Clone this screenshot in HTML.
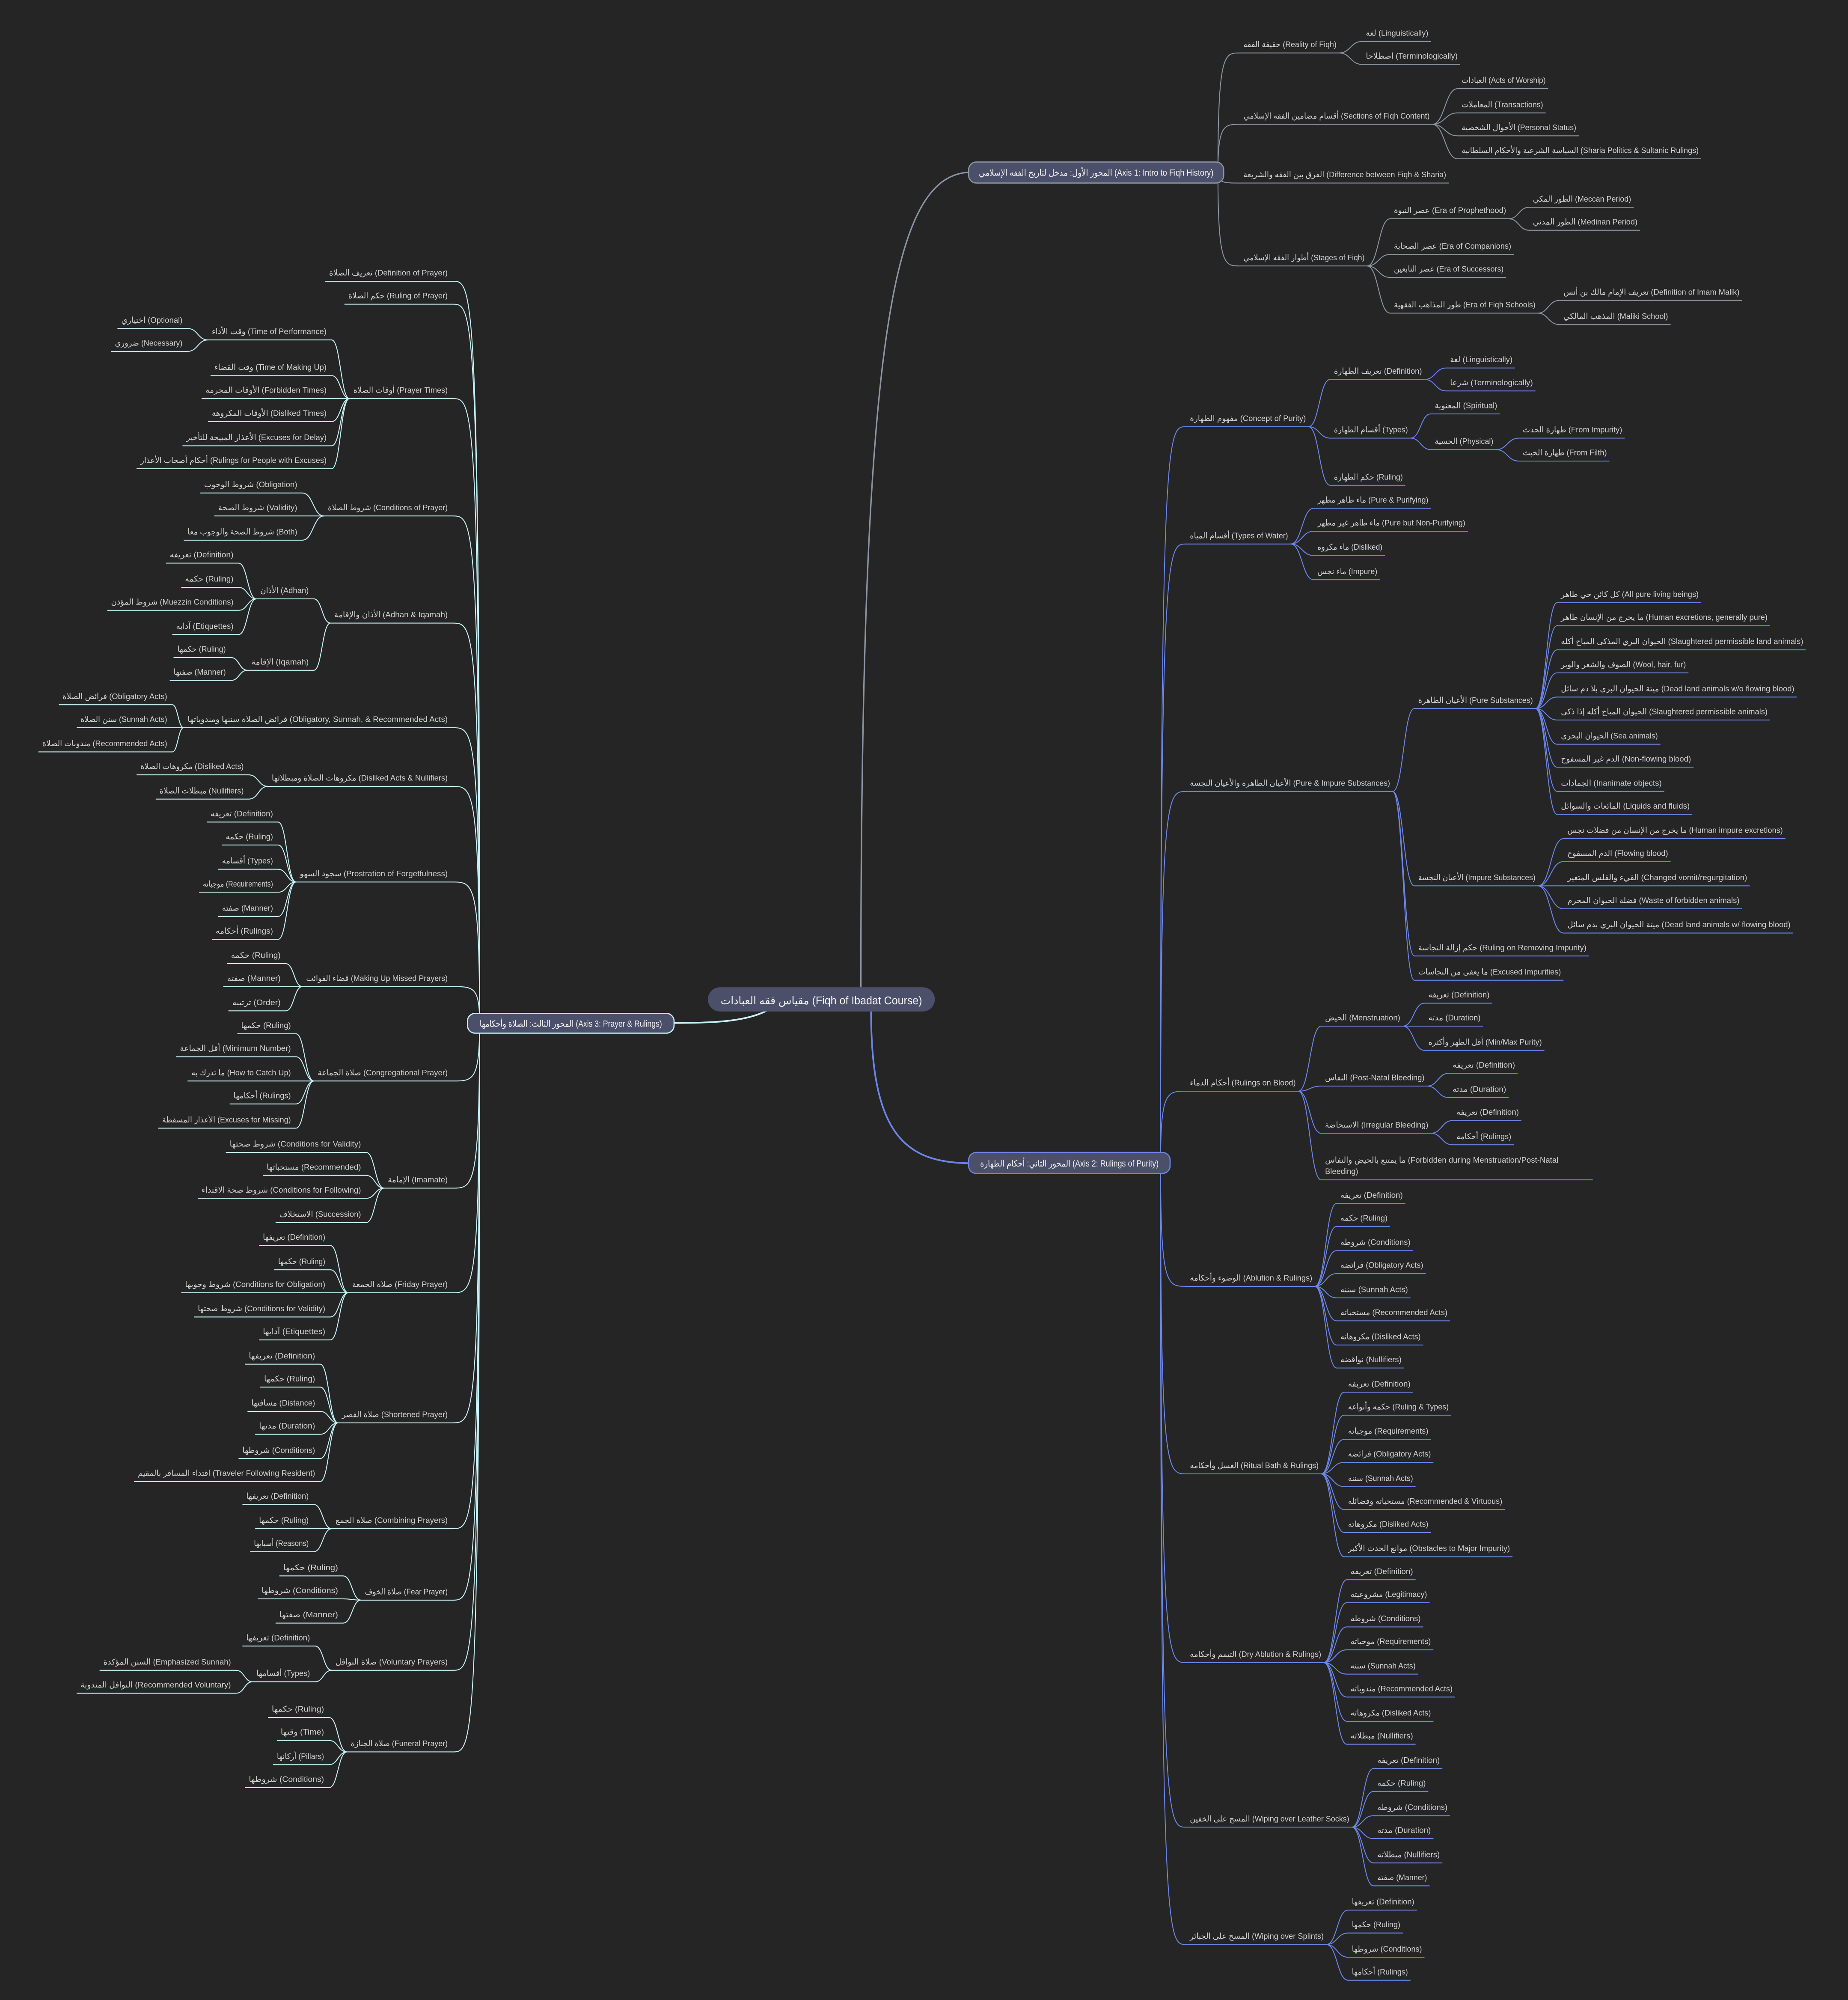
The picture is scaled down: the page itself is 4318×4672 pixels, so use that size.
<!DOCTYPE html>
<html><head><meta charset="utf-8"><style>
html,body{margin:0;padding:0;background:#252525;}
svg{display:block;}
text{font-family:"Liberation Sans","DejaVu Sans",sans-serif;font-size:6.3px;fill:#d2d2d2;}
.g{stroke:#8c95a5;fill:none;stroke-width:0.7;}
.b{stroke:#6c86e8;fill:none;stroke-width:0.7;}
.c{stroke:#c6f1f6;fill:none;stroke-width:0.7;}
.bx text{fill:#f2f2f2;font-size:7px;}
</style></head><body>
<svg width="4318" height="4672" viewBox="0 0 1449 1568" xmlns="http://www.w3.org/2000/svg">
<rect width="1449" height="1568" fill="#252525"/>

<!-- root connectors -->
<path class="g" style="stroke-width:1.1" d="M675,774 C675,260 700,135 762,135"/>
<path class="b" style="stroke-width:1.3" d="M683,793 C683,890 710,912 762,912"/>
<path class="c" style="stroke-width:1.3" d="M602,792 C585,801 560,802 526,802"/>

<!-- ===== AXIS 1 ===== -->
<path class="g" d="M955,135 C955,41.5 960,41.5 972,41.5 H1050"/>
<text x="975" y="37" textLength="73" lengthAdjust="spacingAndGlyphs">حقيقة الفقه (Reality of Fiqh)</text>
<path class="g" d="M955,135 C955,97.5 960,97.5 972,97.5 H1123"/>
<text x="975" y="93" textLength="146" lengthAdjust="spacingAndGlyphs">أقسام مضامين الفقه الإسلامي (Sections of Fiqh Content)</text>
<path class="g" d="M955,135 C955,143.5 960,143.5 972,143.5 H1136"/>
<text x="975" y="139" textLength="159" lengthAdjust="spacingAndGlyphs">الفرق بين الفقه والشريعة (Difference between Fiqh &amp; Sharia)</text>
<path class="g" d="M955,135 C955,208.5 960,208.5 972,208.5 H1072"/>
<text x="975" y="204" textLength="95" lengthAdjust="spacingAndGlyphs">أطوار الفقه الإسلامي (Stages of Fiqh)</text>

<path class="g" d="M1050,41.5 C1059,41.5 1059,32.5 1068,32.5 H1122"/>
<text x="1071" y="28" textLength="49" lengthAdjust="spacingAndGlyphs">لغة (Linguistically)</text>
<path class="g" d="M1050,41.5 C1059,41.5 1059,50.5 1068,50.5 H1145"/>
<text x="1071" y="46" textLength="72" lengthAdjust="spacingAndGlyphs">اصطلاحا (Terminologically)</text>

<path class="g" d="M1123,97.5 C1133,97.5 1133,69.5 1143,69.5 H1214"/>
<text x="1146" y="65" textLength="66" lengthAdjust="spacingAndGlyphs">العبادات (Acts of Worship)</text>
<path class="g" d="M1123,97.5 C1133,97.5 1133,88.5 1143,88.5 H1212"/>
<text x="1146" y="84" textLength="64" lengthAdjust="spacingAndGlyphs">المعاملات (Transactions)</text>
<path class="g" d="M1123,97.5 C1133,97.5 1133,106.5 1143,106.5 H1238"/>
<text x="1146" y="102" textLength="90" lengthAdjust="spacingAndGlyphs">الأحوال الشخصية (Personal Status)</text>
<path class="g" d="M1123,97.5 C1133,97.5 1133,124.5 1143,124.5 H1334"/>
<text x="1146" y="120" textLength="186" lengthAdjust="spacingAndGlyphs">السياسة الشرعية والأحكام السلطانية (Sharia Politics &amp; Sultanic Rulings)</text>

<path class="g" d="M1072,208.5 C1081,208.5 1081,171.5 1090,171.5 H1183"/>
<text x="1093" y="167" textLength="88" lengthAdjust="spacingAndGlyphs">عصر النبوة (Era of Prophethood)</text>
<path class="g" d="M1072,208.5 C1081,208.5 1081,199.5 1090,199.5 H1187"/>
<text x="1093" y="195" textLength="92" lengthAdjust="spacingAndGlyphs">عصر الصحابة (Era of Companions)</text>
<path class="g" d="M1072,208.5 C1081,208.5 1081,217.5 1090,217.5 H1181"/>
<text x="1093" y="213" textLength="86" lengthAdjust="spacingAndGlyphs">عصر التابعين (Era of Successors)</text>
<path class="g" d="M1072,208.5 C1081,208.5 1081,245.5 1090,245.5 H1206"/>
<text x="1093" y="241" textLength="111" lengthAdjust="spacingAndGlyphs">طور المذاهب الفقهية (Era of Fiqh Schools)</text>

<path class="g" d="M1183,171.5 C1191,171.5 1191,162.5 1199,162.5 H1281"/>
<text x="1202" y="158" textLength="77" lengthAdjust="spacingAndGlyphs">الطور المكي (Meccan Period)</text>
<path class="g" d="M1183,171.5 C1191,171.5 1191,180.5 1199,180.5 H1286"/>
<text x="1202" y="176" textLength="82" lengthAdjust="spacingAndGlyphs">الطور المدني (Medinan Period)</text>

<path class="g" d="M1206,245.5 C1214,245.5 1214,235.5 1223,235.5 H1366"/>
<text x="1226" y="231" textLength="138" lengthAdjust="spacingAndGlyphs">تعريف الإمام مالك بن أنس (Definition of Imam Malik)</text>
<path class="g" d="M1206,245.5 C1214,245.5 1214,254.5 1223,254.5 H1310"/>
<text x="1226" y="250" textLength="82" lengthAdjust="spacingAndGlyphs">المذهب المالكي (Maliki School)</text>

<!-- ===== AXIS 2 ===== -->
<path class="b" d="M910,912 C910,334.5 915,334.5 930,334.5 H1026"/>
<text x="933" y="330" textLength="91" lengthAdjust="spacingAndGlyphs">مفهوم الطهارة (Concept of Purity)</text>
<path class="b" d="M910,912 C910,426.5 915,426.5 930,426.5 H1012"/>
<text x="933" y="422" textLength="77" lengthAdjust="spacingAndGlyphs">أقسام المياه (Types of Water)</text>
<path class="b" d="M910,912 C910,620.5 915,620.5 930,620.5 H1092"/>
<text x="933" y="616" textLength="157" lengthAdjust="spacingAndGlyphs">الأعيان الطاهرة والأعيان النجسة (Pure &amp; Impure Substances)</text>
<path class="b" d="M910,912 C910,855.5 915,855.5 930,855.5 H1018"/>
<text x="933" y="851" textLength="83" lengthAdjust="spacingAndGlyphs">أحكام الدماء (Rulings on Blood)</text>
<path class="b" d="M910,912 C910,1008.5 915,1008.5 930,1008.5 H1031"/>
<text x="933" y="1004" textLength="96" lengthAdjust="spacingAndGlyphs">الوضوء وأحكامه (Ablution &amp; Rulings)</text>
<path class="b" d="M910,912 C910,1155.5 915,1155.5 930,1155.5 H1036"/>
<text x="933" y="1151" textLength="101" lengthAdjust="spacingAndGlyphs">الغسل وأحكامه (Ritual Bath &amp; Rulings)</text>
<path class="b" d="M910,912 C910,1303.5 915,1303.5 930,1303.5 H1038"/>
<text x="933" y="1299" textLength="103" lengthAdjust="spacingAndGlyphs">التيمم وأحكامه (Dry Ablution &amp; Rulings)</text>
<path class="b" d="M910,912 C910,1432.5 915,1432.5 930,1432.5 H1060"/>
<text x="933" y="1428" textLength="125" lengthAdjust="spacingAndGlyphs">المسح على الخفين (Wiping over Leather Socks)</text>
<path class="b" d="M910,912 C910,1524.5 915,1524.5 930,1524.5 H1040"/>
<text x="933" y="1520" textLength="105" lengthAdjust="spacingAndGlyphs">المسح على الجبائر (Wiping over Splints)</text>

<!-- Concept -->
<path class="b" d="M1026,334.5 C1034.5,334.5 1034.5,297.5 1043,297.5 H1117"/>
<text x="1046" y="293" textLength="69" lengthAdjust="spacingAndGlyphs">تعريف الطهارة (Definition)</text>
<path class="b" d="M1026,334.5 C1034.5,334.5 1034.5,343.5 1043,343.5 H1106"/>
<text x="1046" y="339" textLength="58" lengthAdjust="spacingAndGlyphs">أقسام الطهارة (Types)</text>
<path class="b" d="M1026,334.5 C1034.5,334.5 1034.5,380.5 1043,380.5 H1102"/>
<text x="1046" y="376" textLength="54" lengthAdjust="spacingAndGlyphs">حكم الطهارة (Ruling)</text>
<path class="b" d="M1117,297.5 C1125.5,297.5 1125.5,288.5 1134,288.5 H1188"/>
<text x="1137" y="284" textLength="49" lengthAdjust="spacingAndGlyphs">لغة (Linguistically)</text>
<path class="b" d="M1117,297.5 C1125.5,297.5 1125.5,306.5 1134,306.5 H1204"/>
<text x="1137" y="302" textLength="65" lengthAdjust="spacingAndGlyphs">شرعا (Terminologically)</text>
<path class="b" d="M1106,343.5 C1114,343.5 1114,324.5 1122,324.5 H1176"/>
<text x="1125" y="320" textLength="49" lengthAdjust="spacingAndGlyphs">المعنوية (Spiritual)</text>
<path class="b" d="M1106,343.5 C1114,343.5 1114,352.5 1122,352.5 H1173"/>
<text x="1125" y="348" textLength="46" lengthAdjust="spacingAndGlyphs">الحسية (Physical)</text>
<path class="b" d="M1173,352.5 C1182,352.5 1182,343.5 1191,343.5 H1274"/>
<text x="1194" y="339" textLength="78" lengthAdjust="spacingAndGlyphs">طهارة الحدث (From Impurity)</text>
<path class="b" d="M1173,352.5 C1182,352.5 1182,361.5 1191,361.5 H1262"/>
<text x="1194" y="357" textLength="66" lengthAdjust="spacingAndGlyphs">طهارة الخبث (From Filth)</text>

<!-- Water -->
<path class="b" d="M1012,426.5 C1021,426.5 1021,398.5 1030,398.5 H1122"/>
<text x="1033" y="394" textLength="87" lengthAdjust="spacingAndGlyphs">ماء طاهر مطهر (Pure &amp; Purifying)</text>
<path class="b" d="M1012,426.5 C1021,426.5 1021,416.5 1030,416.5 H1151"/>
<text x="1033" y="412" textLength="116" lengthAdjust="spacingAndGlyphs">ماء طاهر غير مطهر (Pure but Non-Purifying)</text>
<path class="b" d="M1012,426.5 C1021,426.5 1021,435.5 1030,435.5 H1086"/>
<text x="1033" y="431" textLength="51" lengthAdjust="spacingAndGlyphs">ماء مكروه (Disliked)</text>
<path class="b" d="M1012,426.5 C1021,426.5 1021,454.5 1030,454.5 H1082"/>
<text x="1033" y="450" textLength="47" lengthAdjust="spacingAndGlyphs">ماء نجس (Impure)</text>

<!-- Substances -->
<path class="b" d="M1092,620.5 C1100.5,620.5 1100.5,555.5 1109,555.5 H1204"/>
<text x="1112" y="551" textLength="90" lengthAdjust="spacingAndGlyphs">الأعيان الطاهرة (Pure Substances)</text>
<path class="b" d="M1092,620.5 C1100.5,620.5 1100.5,694.5 1109,694.5 H1206"/>
<text x="1112" y="690" textLength="92" lengthAdjust="spacingAndGlyphs">الأعيان النجسة (Impure Substances)</text>
<path class="b" d="M1092,620.5 C1100.5,620.5 1100.5,749.5 1109,749.5 H1246"/>
<text x="1112" y="745" textLength="132" lengthAdjust="spacingAndGlyphs">حكم إزالة النجاسة (Ruling on Removing Impurity)</text>
<path class="b" d="M1092,620.5 C1100.5,620.5 1100.5,768.5 1109,768.5 H1226"/>
<text x="1112" y="764" textLength="112" lengthAdjust="spacingAndGlyphs">ما يعفى من النجاسات (Excused Impurities)</text>

<path class="b" d="M1204,555.5 C1212.5,555.5 1212.5,472.5 1221,472.5 H1334"/>
<text x="1224" y="468" textLength="108" lengthAdjust="spacingAndGlyphs">كل كائن حي طاهر (All pure living beings)</text>
<path class="b" d="M1204,555.5 C1212.5,555.5 1212.5,490.5 1221,490.5 H1388"/>
<text x="1224" y="486" textLength="162" lengthAdjust="spacingAndGlyphs">ما يخرج من الإنسان طاهر (Human excretions, generally pure)</text>
<path class="b" d="M1204,555.5 C1212.5,555.5 1212.5,509.5 1221,509.5 H1416"/>
<text x="1224" y="505" textLength="190" lengthAdjust="spacingAndGlyphs">الحيوان البري المذكى المباح أكله (Slaughtered permissible land animals)</text>
<path class="b" d="M1204,555.5 C1212.5,555.5 1212.5,527.5 1221,527.5 H1324"/>
<text x="1224" y="523" textLength="98" lengthAdjust="spacingAndGlyphs">الصوف والشعر والوبر (Wool, hair, fur)</text>
<path class="b" d="M1204,555.5 C1212.5,555.5 1212.5,546.5 1221,546.5 H1409"/>
<text x="1224" y="542" textLength="183" lengthAdjust="spacingAndGlyphs">ميتة الحيوان البري بلا دم سائل (Dead land animals w/o flowing blood)</text>
<path class="b" d="M1204,555.5 C1212.5,555.5 1212.5,564.5 1221,564.5 H1388"/>
<text x="1224" y="560" textLength="162" lengthAdjust="spacingAndGlyphs">الحيوان المباح أكله إذا ذكي (Slaughtered permissible animals)</text>
<path class="b" d="M1204,555.5 C1212.5,555.5 1212.5,583.5 1221,583.5 H1302"/>
<text x="1224" y="579" textLength="76" lengthAdjust="spacingAndGlyphs">الحيوان البحري (Sea animals)</text>
<path class="b" d="M1204,555.5 C1212.5,555.5 1212.5,601.5 1221,601.5 H1328"/>
<text x="1224" y="597" textLength="102" lengthAdjust="spacingAndGlyphs">الدم غير المسفوح (Non-flowing blood)</text>
<path class="b" d="M1204,555.5 C1212.5,555.5 1212.5,620.5 1221,620.5 H1305"/>
<text x="1224" y="616" textLength="79" lengthAdjust="spacingAndGlyphs">الجمادات (Inanimate objects)</text>
<path class="b" d="M1204,555.5 C1212.5,555.5 1212.5,638.5 1221,638.5 H1327"/>
<text x="1224" y="634" textLength="101" lengthAdjust="spacingAndGlyphs">المائعات والسوائل (Liquids and fluids)</text>

<path class="b" d="M1206,694.5 C1216,694.5 1216,657.5 1226,657.5 H1400"/>
<text x="1229" y="653" textLength="169" lengthAdjust="spacingAndGlyphs">ما يخرج من الإنسان من فضلات نجس (Human impure excretions)</text>
<path class="b" d="M1206,694.5 C1216,694.5 1216,675.5 1226,675.5 H1310"/>
<text x="1229" y="671" textLength="79" lengthAdjust="spacingAndGlyphs">الدم المسفوح (Flowing blood)</text>
<path class="b" d="M1206,694.5 C1216,694.5 1216,694.5 1226,694.5 H1372"/>
<text x="1229" y="690" textLength="141" lengthAdjust="spacingAndGlyphs">القيء والقلس المتغير (Changed vomit/regurgitation)</text>
<path class="b" d="M1206,694.5 C1216,694.5 1216,712.5 1226,712.5 H1366"/>
<text x="1229" y="708" textLength="135" lengthAdjust="spacingAndGlyphs">فضلة الحيوان المحرم (Waste of forbidden animals)</text>
<path class="b" d="M1206,694.5 C1216,694.5 1216,731.5 1226,731.5 H1406"/>
<text x="1229" y="727" textLength="175" lengthAdjust="spacingAndGlyphs">ميتة الحيوان البري بدم سائل (Dead land animals w/ flowing blood)</text>

<!-- Blood -->
<path class="b" d="M1018,855.5 C1027,855.5 1027,804.5 1036,804.5 H1100"/>
<text x="1039" y="800" textLength="59" lengthAdjust="spacingAndGlyphs">الحيض (Menstruation)</text>
<path class="b" d="M1018,855.5 C1027,855.5 1027,851.5 1036,851.5 H1119"/>
<text x="1039" y="847" textLength="78" lengthAdjust="spacingAndGlyphs">النفاس (Post-Natal Bleeding)</text>
<path class="b" d="M1018,855.5 C1027,855.5 1027,888.5 1036,888.5 H1122"/>
<text x="1039" y="884" textLength="81" lengthAdjust="spacingAndGlyphs">الاستحاضة (Irregular Bleeding)</text>
<path class="b" d="M1018,855.5 C1027,855.5 1027,925 1036,925 H1249"/>
<text x="1039" y="911.5" textLength="183" lengthAdjust="spacingAndGlyphs">ما يمتنع بالحيض والنفاس (Forbidden during Menstruation/Post-Natal</text>
<text x="1039" y="920.5" textLength="26" lengthAdjust="spacingAndGlyphs">Bleeding)</text>

<path class="b" d="M1100,804.5 C1108.5,804.5 1108.5,786.5 1117,786.5 H1170"/>
<text x="1120" y="782" textLength="48" lengthAdjust="spacingAndGlyphs">تعريفه (Definition)</text>
<path class="b" d="M1100,804.5 C1108.5,804.5 1108.5,804.5 1117,804.5 H1163"/>
<text x="1120" y="800" textLength="41" lengthAdjust="spacingAndGlyphs">مدته (Duration)</text>
<path class="b" d="M1100,804.5 C1108.5,804.5 1108.5,823.5 1117,823.5 H1211"/>
<text x="1120" y="819" textLength="89" lengthAdjust="spacingAndGlyphs">أقل الطهر وأكثره (Min/Max Purity)</text>
<path class="b" d="M1119,851.5 C1127.5,851.5 1127.5,841.5 1136,841.5 H1190"/>
<text x="1139" y="837" textLength="49" lengthAdjust="spacingAndGlyphs">تعريفه (Definition)</text>
<path class="b" d="M1119,851.5 C1127.5,851.5 1127.5,860.5 1136,860.5 H1183"/>
<text x="1139" y="856" textLength="42" lengthAdjust="spacingAndGlyphs">مدته (Duration)</text>
<path class="b" d="M1122,888.5 C1130.5,888.5 1130.5,878.5 1139,878.5 H1193"/>
<text x="1142" y="874" textLength="49" lengthAdjust="spacingAndGlyphs">تعريفه (Definition)</text>
<path class="b" d="M1122,888.5 C1130.5,888.5 1130.5,897.5 1139,897.5 H1187"/>
<text x="1142" y="893" textLength="43" lengthAdjust="spacingAndGlyphs">أحكامه (Rulings)</text>

<!-- Ablution -->
<path class="b" d="M1031,1008.5 C1039.5,1008.5 1039.5,943.5 1048,943.5 H1102"/>
<text x="1051" y="939" textLength="49" lengthAdjust="spacingAndGlyphs">تعريفه (Definition)</text>
<path class="b" d="M1031,1008.5 C1039.5,1008.5 1039.5,961.5 1048,961.5 H1090"/>
<text x="1051" y="957" textLength="37" lengthAdjust="spacingAndGlyphs">حكمه (Ruling)</text>
<path class="b" d="M1031,1008.5 C1039.5,1008.5 1039.5,980.5 1048,980.5 H1108"/>
<text x="1051" y="976" textLength="55" lengthAdjust="spacingAndGlyphs">شروطه (Conditions)</text>
<path class="b" d="M1031,1008.5 C1039.5,1008.5 1039.5,998.5 1048,998.5 H1118"/>
<text x="1051" y="994" textLength="65" lengthAdjust="spacingAndGlyphs">فرائضه (Obligatory Acts)</text>
<path class="b" d="M1031,1008.5 C1039.5,1008.5 1039.5,1017.5 1048,1017.5 H1106"/>
<text x="1051" y="1013" textLength="53" lengthAdjust="spacingAndGlyphs">سننه (Sunnah Acts)</text>
<path class="b" d="M1031,1008.5 C1039.5,1008.5 1039.5,1035.5 1048,1035.5 H1137"/>
<text x="1051" y="1031" textLength="84" lengthAdjust="spacingAndGlyphs">مستحباته (Recommended Acts)</text>
<path class="b" d="M1031,1008.5 C1039.5,1008.5 1039.5,1054.5 1048,1054.5 H1116"/>
<text x="1051" y="1050" textLength="63" lengthAdjust="spacingAndGlyphs">مكروهاته (Disliked Acts)</text>
<path class="b" d="M1031,1008.5 C1039.5,1008.5 1039.5,1072.5 1048,1072.5 H1101"/>
<text x="1051" y="1068" textLength="48" lengthAdjust="spacingAndGlyphs">نواقضه (Nullifiers)</text>

<!-- Bath -->
<path class="b" d="M1036,1155.5 C1045,1155.5 1045,1091.5 1054,1091.5 H1108"/>
<text x="1057" y="1087" textLength="49" lengthAdjust="spacingAndGlyphs">تعريفه (Definition)</text>
<path class="b" d="M1036,1155.5 C1045,1155.5 1045,1109.5 1054,1109.5 H1138"/>
<text x="1057" y="1105" textLength="79" lengthAdjust="spacingAndGlyphs">حكمه وأنواعه (Ruling &amp; Types)</text>
<path class="b" d="M1036,1155.5 C1045,1155.5 1045,1128.5 1054,1128.5 H1122"/>
<text x="1057" y="1124" textLength="63" lengthAdjust="spacingAndGlyphs">موجباته (Requirements)</text>
<path class="b" d="M1036,1155.5 C1045,1155.5 1045,1146.5 1054,1146.5 H1124"/>
<text x="1057" y="1142" textLength="65" lengthAdjust="spacingAndGlyphs">فرائضه (Obligatory Acts)</text>
<path class="b" d="M1036,1155.5 C1045,1155.5 1045,1165.5 1054,1165.5 H1110"/>
<text x="1057" y="1161" textLength="51" lengthAdjust="spacingAndGlyphs">سننه (Sunnah Acts)</text>
<path class="b" d="M1036,1155.5 C1045,1155.5 1045,1183.5 1054,1183.5 H1180"/>
<text x="1057" y="1179" textLength="121" lengthAdjust="spacingAndGlyphs">مستحباته وفضائله (Recommended &amp; Virtuous)</text>
<path class="b" d="M1036,1155.5 C1045,1155.5 1045,1201.5 1054,1201.5 H1122"/>
<text x="1057" y="1197" textLength="63" lengthAdjust="spacingAndGlyphs">مكروهاته (Disliked Acts)</text>
<path class="b" d="M1036,1155.5 C1045,1155.5 1045,1220.5 1054,1220.5 H1186"/>
<text x="1057" y="1216" textLength="127" lengthAdjust="spacingAndGlyphs">موانع الحدث الأكبر (Obstacles to Major Impurity)</text>

<!-- Tayammum -->
<path class="b" d="M1038,1303.5 C1047,1303.5 1047,1238.5 1056,1238.5 H1110"/>
<text x="1059" y="1234" textLength="49" lengthAdjust="spacingAndGlyphs">تعريفه (Definition)</text>
<path class="b" d="M1038,1303.5 C1047,1303.5 1047,1256.5 1056,1256.5 H1121"/>
<text x="1059" y="1252" textLength="60" lengthAdjust="spacingAndGlyphs">مشروعيته (Legitimacy)</text>
<path class="b" d="M1038,1303.5 C1047,1303.5 1047,1275.5 1056,1275.5 H1116"/>
<text x="1059" y="1271" textLength="55" lengthAdjust="spacingAndGlyphs">شروطه (Conditions)</text>
<path class="b" d="M1038,1303.5 C1047,1303.5 1047,1293.5 1056,1293.5 H1124"/>
<text x="1059" y="1289" textLength="63" lengthAdjust="spacingAndGlyphs">موجباته (Requirements)</text>
<path class="b" d="M1038,1303.5 C1047,1303.5 1047,1312.5 1056,1312.5 H1112"/>
<text x="1059" y="1308" textLength="51" lengthAdjust="spacingAndGlyphs">سننه (Sunnah Acts)</text>
<path class="b" d="M1038,1303.5 C1047,1303.5 1047,1330.5 1056,1330.5 H1141"/>
<text x="1059" y="1326" textLength="80" lengthAdjust="spacingAndGlyphs">مندوباته (Recommended Acts)</text>
<path class="b" d="M1038,1303.5 C1047,1303.5 1047,1349.5 1056,1349.5 H1124"/>
<text x="1059" y="1345" textLength="63" lengthAdjust="spacingAndGlyphs">مكروهاته (Disliked Acts)</text>
<path class="b" d="M1038,1303.5 C1047,1303.5 1047,1367.5 1056,1367.5 H1110"/>
<text x="1059" y="1363" textLength="49" lengthAdjust="spacingAndGlyphs">مبطلاته (Nullifiers)</text>

<!-- Khuffain -->
<path class="b" d="M1060,1432.5 C1068.5,1432.5 1068.5,1386.5 1077,1386.5 H1131"/>
<text x="1080" y="1382" textLength="49" lengthAdjust="spacingAndGlyphs">تعريفه (Definition)</text>
<path class="b" d="M1060,1432.5 C1068.5,1432.5 1068.5,1404.5 1077,1404.5 H1120"/>
<text x="1080" y="1400" textLength="38" lengthAdjust="spacingAndGlyphs">حكمه (Ruling)</text>
<path class="b" d="M1060,1432.5 C1068.5,1432.5 1068.5,1423.5 1077,1423.5 H1137"/>
<text x="1080" y="1419" textLength="55" lengthAdjust="spacingAndGlyphs">شروطه (Conditions)</text>
<path class="b" d="M1060,1432.5 C1068.5,1432.5 1068.5,1441.5 1077,1441.5 H1124"/>
<text x="1080" y="1437" textLength="42" lengthAdjust="spacingAndGlyphs">مدته (Duration)</text>
<path class="b" d="M1060,1432.5 C1068.5,1432.5 1068.5,1460.5 1077,1460.5 H1131"/>
<text x="1080" y="1456" textLength="49" lengthAdjust="spacingAndGlyphs">مبطلاته (Nullifiers)</text>
<path class="b" d="M1060,1432.5 C1068.5,1432.5 1068.5,1478.5 1077,1478.5 H1121"/>
<text x="1080" y="1474" textLength="39" lengthAdjust="spacingAndGlyphs">صفته (Manner)</text>

<!-- Splints -->
<path class="b" d="M1040,1524.5 C1048.5,1524.5 1048.5,1497.5 1057,1497.5 H1111"/>
<text x="1060" y="1493" textLength="49" lengthAdjust="spacingAndGlyphs">تعريفها (Definition)</text>
<path class="b" d="M1040,1524.5 C1048.5,1524.5 1048.5,1515.5 1057,1515.5 H1100"/>
<text x="1060" y="1511" textLength="38" lengthAdjust="spacingAndGlyphs">حكمها (Ruling)</text>
<path class="b" d="M1040,1524.5 C1048.5,1524.5 1048.5,1534.5 1057,1534.5 H1117"/>
<text x="1060" y="1530" textLength="55" lengthAdjust="spacingAndGlyphs">شروطها (Conditions)</text>
<path class="b" d="M1040,1524.5 C1048.5,1524.5 1048.5,1552.5 1057,1552.5 H1106"/>
<text x="1060" y="1548" textLength="44" lengthAdjust="spacingAndGlyphs">أحكامها (Rulings)</text>

<!-- ===== AXIS 3 (left) ===== -->
<path class="c" d="M376,802 C376,220.5 371,220.5 355,220.5 H255"/>
<text x="258" y="216" textLength="93" lengthAdjust="spacingAndGlyphs">تعريف الصلاة (Definition of Prayer)</text>
<path class="c" d="M376,802 C376,238.5 371,238.5 355,238.5 H270"/>
<text x="273" y="234" textLength="78" lengthAdjust="spacingAndGlyphs">حكم الصلاة (Ruling of Prayer)</text>
<path class="c" d="M376,802 C376,312.5 371,312.5 355,312.5 H274"/>
<text x="277" y="308" textLength="74" lengthAdjust="spacingAndGlyphs">أوقات الصلاة (Prayer Times)</text>
<path class="c" d="M376,802 C376,404.5 371,404.5 355,404.5 H254"/>
<text x="257" y="400" textLength="94" lengthAdjust="spacingAndGlyphs">شروط الصلاة (Conditions of Prayer)</text>
<path class="c" d="M376,802 C376,488.5 371,488.5 355,488.5 H259"/>
<text x="262" y="484" textLength="89" lengthAdjust="spacingAndGlyphs">الأذان والإقامة (Adhan &amp; Iqamah)</text>
<path class="c" d="M376,802 C376,570.5 371,570.5 355,570.5 H144"/>
<text x="147" y="566" textLength="204" lengthAdjust="spacingAndGlyphs">فرائض الصلاة سننها ومندوباتها (Obligatory, Sunnah, &amp; Recommended Acts)</text>
<path class="c" d="M376,802 C376,616.5 371,616.5 355,616.5 H210"/>
<text x="213" y="612" textLength="138" lengthAdjust="spacingAndGlyphs">مكروهات الصلاة ومبطلاتها (Disliked Acts &amp; Nullifiers)</text>
<path class="c" d="M376,802 C376,691.5 371,691.5 355,691.5 H232"/>
<text x="235" y="687" textLength="116" lengthAdjust="spacingAndGlyphs">سجود السهو (Prostration of Forgetfulness)</text>
<path class="c" d="M376,802 C376,773.5 371,773.5 355,773.5 H237"/>
<text x="240" y="769" textLength="111" lengthAdjust="spacingAndGlyphs">قضاء الفوائت (Making Up Missed Prayers)</text>
<path class="c" d="M376,802 C376,847.5 371,847.5 355,847.5 H246"/>
<text x="249" y="843" textLength="102" lengthAdjust="spacingAndGlyphs">صلاة الجماعة (Congregational Prayer)</text>
<path class="c" d="M376,802 C376,931.5 371,931.5 355,931.5 H301"/>
<text x="304" y="927" textLength="47" lengthAdjust="spacingAndGlyphs">الإمامة (Imamate)</text>
<path class="c" d="M376,802 C376,1013.5 371,1013.5 355,1013.5 H273"/>
<text x="276" y="1009" textLength="75" lengthAdjust="spacingAndGlyphs">صلاة الجمعة (Friday Prayer)</text>
<path class="c" d="M376,802 C376,1115.5 371,1115.5 355,1115.5 H265"/>
<text x="268" y="1111" textLength="83" lengthAdjust="spacingAndGlyphs">صلاة القصر (Shortened Prayer)</text>
<path class="c" d="M376,802 C376,1198.5 371,1198.5 355,1198.5 H260"/>
<text x="263" y="1194" textLength="88" lengthAdjust="spacingAndGlyphs">صلاة الجمع (Combining Prayers)</text>
<path class="c" d="M376,802 C376,1254.5 371,1254.5 355,1254.5 H283"/>
<text x="286" y="1250" textLength="65" lengthAdjust="spacingAndGlyphs">صلاة الخوف (Fear Prayer)</text>
<path class="c" d="M376,802 C376,1309.5 371,1309.5 355,1309.5 H260"/>
<text x="263" y="1305" textLength="88" lengthAdjust="spacingAndGlyphs">صلاة النوافل (Voluntary Prayers)</text>
<path class="c" d="M376,802 C376,1373.5 371,1373.5 355,1373.5 H272"/>
<text x="275" y="1369" textLength="76" lengthAdjust="spacingAndGlyphs">صلاة الجنازة (Funeral Prayer)</text>

<!-- Prayer times -->
<path class="c" d="M274,312.5 C267,312.5 267,266.5 260,266.5 H163"/>
<text x="166" y="262" textLength="90" lengthAdjust="spacingAndGlyphs">وقت الأداء (Time of Performance)</text>
<path class="c" d="M274,312.5 C267,312.5 267,294.5 260,294.5 H165"/>
<text x="168" y="290" textLength="88" lengthAdjust="spacingAndGlyphs">وقت القضاء (Time of Making Up)</text>
<path class="c" d="M274,312.5 C267,312.5 267,312.5 260,312.5 H158"/>
<text x="161" y="308" textLength="95" lengthAdjust="spacingAndGlyphs">الأوقات المحرمة (Forbidden Times)</text>
<path class="c" d="M274,312.5 C267,312.5 267,330.5 260,330.5 H163"/>
<text x="166" y="326" textLength="90" lengthAdjust="spacingAndGlyphs">الأوقات المكروهة (Disliked Times)</text>
<path class="c" d="M274,312.5 C267,312.5 267,349.5 260,349.5 H143"/>
<text x="146" y="345" textLength="110" lengthAdjust="spacingAndGlyphs">الأعذار المبيحة للتأخير (Excuses for Delay)</text>
<path class="c" d="M274,312.5 C267,312.5 267,367.5 260,367.5 H107"/>
<text x="110" y="363" textLength="146" lengthAdjust="spacingAndGlyphs">أحكام أصحاب الأعذار (Rulings for People with Excuses)</text>
<path class="c" d="M163,266.5 C155,266.5 155,257.5 147,257.5 H92"/>
<text x="95" y="253" textLength="48" lengthAdjust="spacingAndGlyphs">اختياري (Optional)</text>
<path class="c" d="M163,266.5 C155,266.5 155,275.5 147,275.5 H87"/>
<text x="90" y="271" textLength="53" lengthAdjust="spacingAndGlyphs">ضروري (Necessary)</text>

<!-- Conditions -->
<path class="c" d="M254,404.5 C245.5,404.5 245.5,386.5 237,386.5 H157"/>
<text x="160" y="382" textLength="73" lengthAdjust="spacingAndGlyphs">شروط الوجوب (Obligation)</text>
<path class="c" d="M254,404.5 C245.5,404.5 245.5,404.5 237,404.5 H168"/>
<text x="171" y="400" textLength="62" lengthAdjust="spacingAndGlyphs">شروط الصحة (Validity)</text>
<path class="c" d="M254,404.5 C245.5,404.5 245.5,423.5 237,423.5 H144"/>
<text x="147" y="419" textLength="86" lengthAdjust="spacingAndGlyphs">شروط الصحة والوجوب معا (Both)</text>

<!-- Adhan -->
<path class="c" d="M259,488.5 C252.5,488.5 252.5,469.5 246,469.5 H201"/>
<text x="204" y="465" textLength="38" lengthAdjust="spacingAndGlyphs">الأذان (Adhan)</text>
<path class="c" d="M259,488.5 C252.5,488.5 252.5,525.5 246,525.5 H194"/>
<text x="197" y="521" textLength="45" lengthAdjust="spacingAndGlyphs">الإقامة (Iqamah)</text>
<path class="c" d="M201,469.5 C194,469.5 194,441.5 187,441.5 H130"/>
<text x="133" y="437" textLength="50" lengthAdjust="spacingAndGlyphs">تعريفه (Definition)</text>
<path class="c" d="M201,469.5 C194,469.5 194,460.5 187,460.5 H142"/>
<text x="145" y="456" textLength="38" lengthAdjust="spacingAndGlyphs">حكمه (Ruling)</text>
<path class="c" d="M201,469.5 C194,469.5 194,478.5 187,478.5 H84"/>
<text x="87" y="474" textLength="96" lengthAdjust="spacingAndGlyphs">شروط المؤذن (Muezzin Conditions)</text>
<path class="c" d="M201,469.5 C194,469.5 194,497.5 187,497.5 H135"/>
<text x="138" y="493" textLength="45" lengthAdjust="spacingAndGlyphs">آدابه (Etiquettes)</text>
<path class="c" d="M194,525.5 C187.5,525.5 187.5,515.5 181,515.5 H136"/>
<text x="139" y="511" textLength="38" lengthAdjust="spacingAndGlyphs">حكمها (Ruling)</text>
<path class="c" d="M194,525.5 C187.5,525.5 187.5,533.5 181,533.5 H133"/>
<text x="136" y="529" textLength="41" lengthAdjust="spacingAndGlyphs">صفتها (Manner)</text>

<!-- Obligatory -->
<path class="c" d="M144,570.5 C139.5,570.5 139.5,552.5 135,552.5 H46"/>
<text x="49" y="548" textLength="82" lengthAdjust="spacingAndGlyphs">فرائض الصلاة (Obligatory Acts)</text>
<path class="c" d="M144,570.5 C139.5,570.5 139.5,570.5 135,570.5 H60"/>
<text x="63" y="566" textLength="68" lengthAdjust="spacingAndGlyphs">سنن الصلاة (Sunnah Acts)</text>
<path class="c" d="M144,570.5 C139.5,570.5 139.5,589.5 135,589.5 H30"/>
<text x="33" y="585" textLength="98" lengthAdjust="spacingAndGlyphs">مندوبات الصلاة (Recommended Acts)</text>

<!-- Disliked -->
<path class="c" d="M210,616.5 C202.5,616.5 202.5,607.5 195,607.5 H107"/>
<text x="110" y="603" textLength="81" lengthAdjust="spacingAndGlyphs">مكروهات الصلاة (Disliked Acts)</text>
<path class="c" d="M210,616.5 C202.5,616.5 202.5,626.5 195,626.5 H122"/>
<text x="125" y="622" textLength="66" lengthAdjust="spacingAndGlyphs">مبطلات الصلاة (Nullifiers)</text>

<!-- Sujud -->
<path class="c" d="M232,691.5 C225,691.5 225,644.5 218,644.5 H162"/>
<text x="165" y="640" textLength="49" lengthAdjust="spacingAndGlyphs">تعريفه (Definition)</text>
<path class="c" d="M232,691.5 C225,691.5 225,662.5 218,662.5 H174"/>
<text x="177" y="658" textLength="37" lengthAdjust="spacingAndGlyphs">حكمه (Ruling)</text>
<path class="c" d="M232,691.5 C225,691.5 225,681.5 218,681.5 H171"/>
<text x="174" y="677" textLength="40" lengthAdjust="spacingAndGlyphs">أقسامه (Types)</text>
<path class="c" d="M232,691.5 C225,691.5 225,699.5 218,699.5 H156"/>
<text x="159" y="695" textLength="55" lengthAdjust="spacingAndGlyphs">موجباته (Requirements)</text>
<path class="c" d="M232,691.5 C225,691.5 225,718.5 218,718.5 H171"/>
<text x="174" y="714" textLength="40" lengthAdjust="spacingAndGlyphs">صفته (Manner)</text>
<path class="c" d="M232,691.5 C225,691.5 225,736.5 218,736.5 H166"/>
<text x="169" y="732" textLength="45" lengthAdjust="spacingAndGlyphs">أحكامه (Rulings)</text>

<!-- Qada -->
<path class="c" d="M237,773.5 C230.5,773.5 230.5,755.5 224,755.5 H178"/>
<text x="181" y="751" textLength="39" lengthAdjust="spacingAndGlyphs">حكمه (Ruling)</text>
<path class="c" d="M237,773.5 C230.5,773.5 230.5,773.5 224,773.5 H175"/>
<text x="178" y="769" textLength="42" lengthAdjust="spacingAndGlyphs">صفته (Manner)</text>
<path class="c" d="M237,773.5 C230.5,773.5 230.5,792.5 224,792.5 H179"/>
<text x="182" y="788" textLength="38" lengthAdjust="spacingAndGlyphs">ترتيبه (Order)</text>

<!-- Jamaah -->
<path class="c" d="M246,847.5 C239,847.5 239,810.5 232,810.5 H186"/>
<text x="189" y="806" textLength="39" lengthAdjust="spacingAndGlyphs">حكمها (Ruling)</text>
<path class="c" d="M246,847.5 C239,847.5 239,828.5 232,828.5 H138"/>
<text x="141" y="824" textLength="87" lengthAdjust="spacingAndGlyphs">أقل الجماعة (Minimum Number)</text>
<path class="c" d="M246,847.5 C239,847.5 239,847.5 232,847.5 H147"/>
<text x="150" y="843" textLength="78" lengthAdjust="spacingAndGlyphs">ما تدرك به (How to Catch Up)</text>
<path class="c" d="M246,847.5 C239,847.5 239,865.5 232,865.5 H180"/>
<text x="183" y="861" textLength="45" lengthAdjust="spacingAndGlyphs">أحكامها (Rulings)</text>
<path class="c" d="M246,847.5 C239,847.5 239,884.5 232,884.5 H124"/>
<text x="127" y="880" textLength="101" lengthAdjust="spacingAndGlyphs">الأعذار المسقطة (Excuses for Missing)</text>

<!-- Imamate -->
<path class="c" d="M301,931.5 C294,931.5 294,903.5 287,903.5 H177"/>
<text x="180" y="899" textLength="103" lengthAdjust="spacingAndGlyphs">شروط صحتها (Conditions for Validity)</text>
<path class="c" d="M301,931.5 C294,931.5 294,921.5 287,921.5 H206"/>
<text x="209" y="917" textLength="74" lengthAdjust="spacingAndGlyphs">مستحباتها (Recommended)</text>
<path class="c" d="M301,931.5 C294,931.5 294,939.5 287,939.5 H155"/>
<text x="158" y="935" textLength="125" lengthAdjust="spacingAndGlyphs">شروط صحة الاقتداء (Conditions for Following)</text>
<path class="c" d="M301,931.5 C294,931.5 294,958.5 287,958.5 H216"/>
<text x="219" y="954" textLength="64" lengthAdjust="spacingAndGlyphs">الاستخلاف (Succession)</text>

<!-- Friday -->
<path class="c" d="M273,1013.5 C266,1013.5 266,976.5 259,976.5 H203"/>
<text x="206" y="972" textLength="49" lengthAdjust="spacingAndGlyphs">تعريفها (Definition)</text>
<path class="c" d="M273,1013.5 C266,1013.5 266,995.5 259,995.5 H215"/>
<text x="218" y="991" textLength="37" lengthAdjust="spacingAndGlyphs">حكمها (Ruling)</text>
<path class="c" d="M273,1013.5 C266,1013.5 266,1013.5 259,1013.5 H142"/>
<text x="145" y="1009" textLength="110" lengthAdjust="spacingAndGlyphs">شروط وجوبها (Conditions for Obligation)</text>
<path class="c" d="M273,1013.5 C266,1013.5 266,1032.5 259,1032.5 H152"/>
<text x="155" y="1028" textLength="100" lengthAdjust="spacingAndGlyphs">شروط صحتها (Conditions for Validity)</text>
<path class="c" d="M273,1013.5 C266,1013.5 266,1050.5 259,1050.5 H203"/>
<text x="206" y="1046" textLength="49" lengthAdjust="spacingAndGlyphs">آدابها (Etiquettes)</text>

<!-- Qasr -->
<path class="c" d="M265,1115.5 C258,1115.5 258,1069.5 251,1069.5 H192"/>
<text x="195" y="1065" textLength="52" lengthAdjust="spacingAndGlyphs">تعريفها (Definition)</text>
<path class="c" d="M265,1115.5 C258,1115.5 258,1087.5 251,1087.5 H204"/>
<text x="207" y="1083" textLength="40" lengthAdjust="spacingAndGlyphs">حكمها (Ruling)</text>
<path class="c" d="M265,1115.5 C258,1115.5 258,1106.5 251,1106.5 H194"/>
<text x="197" y="1102" textLength="50" lengthAdjust="spacingAndGlyphs">مسافتها (Distance)</text>
<path class="c" d="M265,1115.5 C258,1115.5 258,1124.5 251,1124.5 H200"/>
<text x="203" y="1120" textLength="44" lengthAdjust="spacingAndGlyphs">مدتها (Duration)</text>
<path class="c" d="M265,1115.5 C258,1115.5 258,1143.5 251,1143.5 H187"/>
<text x="190" y="1139" textLength="57" lengthAdjust="spacingAndGlyphs">شروطها (Conditions)</text>
<path class="c" d="M265,1115.5 C258,1115.5 258,1161.5 251,1161.5 H105"/>
<text x="108" y="1157" textLength="139" lengthAdjust="spacingAndGlyphs">اقتداء المسافر بالمقيم (Traveler Following Resident)</text>

<!-- Jam' -->
<path class="c" d="M260,1198.5 C253,1198.5 253,1179.5 246,1179.5 H190"/>
<text x="193" y="1175" textLength="49" lengthAdjust="spacingAndGlyphs">تعريفها (Definition)</text>
<path class="c" d="M260,1198.5 C253,1198.5 253,1198.5 246,1198.5 H200"/>
<text x="203" y="1194" textLength="39" lengthAdjust="spacingAndGlyphs">حكمها (Ruling)</text>
<path class="c" d="M260,1198.5 C253,1198.5 253,1216.5 246,1216.5 H196"/>
<text x="199" y="1212" textLength="43" lengthAdjust="spacingAndGlyphs">أسبابها (Reasons)</text>

<!-- Fear -->
<path class="c" d="M283,1254.5 C276,1254.5 276,1235.5 269,1235.5 H219"/>
<text x="222" y="1231" textLength="43" lengthAdjust="spacingAndGlyphs">حكمها (Ruling)</text>
<path class="c" d="M283,1254.5 C276,1254.5 276,1253.5 269,1253.5 H202"/>
<text x="205" y="1249" textLength="60" lengthAdjust="spacingAndGlyphs">شروطها (Conditions)</text>
<path class="c" d="M283,1254.5 C276,1254.5 276,1272.5 269,1272.5 H216"/>
<text x="219" y="1268" textLength="46" lengthAdjust="spacingAndGlyphs">صفتها (Manner)</text>

<!-- Nawafil -->
<path class="c" d="M260,1309.5 C253.5,1309.5 253.5,1290.5 247,1290.5 H190"/>
<text x="193" y="1286" textLength="50" lengthAdjust="spacingAndGlyphs">تعريفها (Definition)</text>
<path class="c" d="M260,1309.5 C253.5,1309.5 253.5,1318.5 247,1318.5 H198"/>
<text x="201" y="1314" textLength="42" lengthAdjust="spacingAndGlyphs">أقسامها (Types)</text>
<path class="c" d="M198,1318.5 C191.5,1318.5 191.5,1309.5 185,1309.5 H78"/>
<text x="81" y="1305" textLength="100" lengthAdjust="spacingAndGlyphs">السنن المؤكدة (Emphasized Sunnah)</text>
<path class="c" d="M198,1318.5 C191.5,1318.5 191.5,1327.5 185,1327.5 H60"/>
<text x="63" y="1323" textLength="118" lengthAdjust="spacingAndGlyphs">النوافل المندوبة (Recommended Voluntary)</text>

<!-- Janazah -->
<path class="c" d="M272,1373.5 C265,1373.5 265,1346.5 258,1346.5 H210"/>
<text x="213" y="1342" textLength="41" lengthAdjust="spacingAndGlyphs">حكمها (Ruling)</text>
<path class="c" d="M272,1373.5 C265,1373.5 265,1364.5 258,1364.5 H217"/>
<text x="220" y="1360" textLength="34" lengthAdjust="spacingAndGlyphs">وقتها (Time)</text>
<path class="c" d="M272,1373.5 C265,1373.5 265,1383.5 258,1383.5 H214"/>
<text x="217" y="1379" textLength="37" lengthAdjust="spacingAndGlyphs">أركانها (Pillars)</text>
<path class="c" d="M272,1373.5 C265,1373.5 265,1401.5 258,1401.5 H192"/>
<text x="195" y="1397" textLength="59" lengthAdjust="spacingAndGlyphs">شروطها (Conditions)</text>

<!-- ===== BOXES ===== -->
<g class="bx">
<rect x="759.5" y="127" width="200" height="16.5" rx="6" fill="#4b4f69" stroke="#8c95a5" stroke-width="0.9"/>
<text x="859.5" y="137.8" text-anchor="middle" textLength="184" lengthAdjust="spacingAndGlyphs">المحور الأول: مدخل لتاريخ الفقه الإسلامي (Axis 1: Intro to Fiqh History)</text>
<rect x="759.5" y="903.5" width="158" height="16.5" rx="6" fill="#4b4f69" stroke="#6c86e8" stroke-width="0.9"/>
<text x="838.5" y="914.5" text-anchor="middle" textLength="140" lengthAdjust="spacingAndGlyphs">المحور الثاني: أحكام الطهارة (Axis 2: Rulings of Purity)</text>
<rect x="366.5" y="794.5" width="162" height="15.5" rx="6" fill="#4b4f69" stroke="#c6f1f6" stroke-width="0.9"/>
<text x="447.5" y="805" text-anchor="middle" textLength="143" lengthAdjust="spacingAndGlyphs">المحور الثالث: الصلاة وأحكامها (Axis 3: Prayer &amp; Rulings)</text>
<rect x="555" y="774" width="178" height="19" rx="9.5" fill="#4b4f69"/>
<text x="644" y="787.3" text-anchor="middle" style="font-size:8.6px" textLength="158" lengthAdjust="spacingAndGlyphs">مقياس فقه العبادات (Fiqh of Ibadat Course)</text>
</g>
</svg>
</body></html>
